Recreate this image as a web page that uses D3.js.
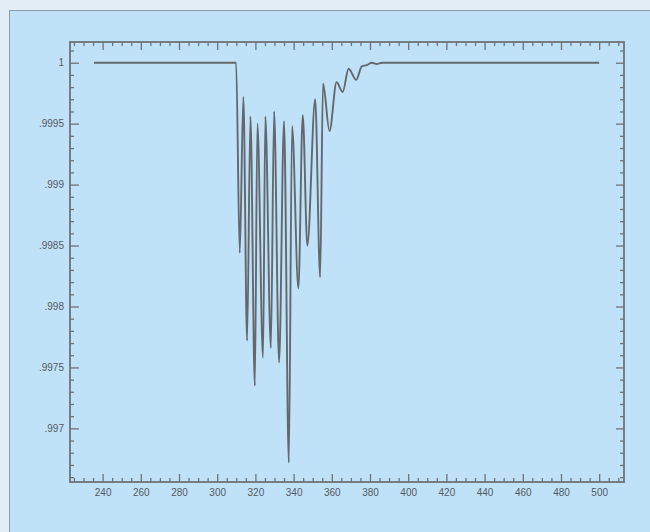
<!DOCTYPE html>
<html>
<head>
<meta charset="utf-8">
<script src="https://cdn.jsdelivr.net/npm/d3@7"></script>
<style>
  html, body { margin: 0; padding: 0; background: #e3eef6; }
  svg { display: block; }
</style>
</head>
<body>
<svg id="chart" width="650" height="532"></svg>
<script>
// Transmission spectrum: wavelength (nm) and relative transmission
const wavelength = [
  235.5, 309.9, 311.8, 313.7, 315.65, 317.4, 319.7, 321.05, 324.0, 325.2,
  328.1, 329.8, 332.4, 335.0, 337.5, 339.2, 342.5, 344.8, 347.2, 351.3,
  353.9, 355.4, 358.8, 362.5, 365.7, 368.8, 372.8, 375.7, 378.3, 381.0,
  383.5, 386.4, 500
];
const transmission = [
  1.0, 1.0, 0.99844, 0.99972, 0.99772, 0.99956, 0.99735, 0.99950, 0.99758, 0.99956,
  0.99766, 0.99960, 0.99754, 0.99952, 0.99672, 0.99948, 0.99815, 0.99957, 0.99850, 0.99970,
  0.99824, 0.99983, 0.99944, 0.99984, 0.99976, 0.99995, 0.99986, 0.99997, 0.99998, 1.0,
  0.99999, 1.0, 1.0
];

// Axis ticks and labels
const xTickValues = [240, 260, 280, 300, 320, 340, 360, 380, 400, 420, 440, 460, 480, 500];
const yTickValues = [0.997, 0.9975, 0.998, 0.9985, 0.999, 0.9995, 1];
const yTickLabels = [".997", ".9975", ".998", ".9985", ".999", ".9995", "1"];

const svg = d3.select("#chart");
const W = 650, H = 532;
const box = { left: 70, right: 624, top: 42, bottom: 482 };

// Panel background with its thin border
svg.append("rect")
  .attr("x", 9.5).attr("y", 10.5)
  .attr("width", W).attr("height", H)
  .attr("fill", "#bfe2f9")
  .attr("stroke", "#8d9ba6")
  .attr("stroke-width", 1);

const x = d3.scaleLinear().domain([222.4, 513]).range([box.left - 1, box.right]);
const y = d3.scaleLinear().domain([0.99656, 1.00017]).range([box.bottom, box.top]);

const axisColor = "#6e7378";
const textColor = "#55595d";

const xMinor = d3.range(225, 513, 5).filter(v => v % 20 !== 0);
const yMinor = d3.range(9966, 10002, 1).map(v => v / 10000).filter(v => Math.round(v * 10000) % 5 !== 0);

function styleAxis(g) {
  g.select(".domain").remove();
  g.selectAll("line").attr("stroke", axisColor).attr("stroke-width", 1.3);
  g.selectAll("text").attr("fill", textColor)
    .style("font-family", "'Liberation Sans', Arial, sans-serif")
    .style("font-size", "10px");
}

// Bottom axis (labelled) and top axis (ticks only), ticks pointing inward
svg.append("g").attr("transform", `translate(0,${box.bottom})`)
  .call(d3.axisBottom(x).tickValues(xTickValues).tickSizeInner(-8).tickSizeOuter(0).tickPadding(7).tickFormat(d3.format("d")))
  .call(styleAxis);
svg.append("g").attr("transform", `translate(0,${box.bottom})`)
  .call(d3.axisBottom(x).tickValues(xMinor).tickSizeInner(-4).tickSizeOuter(0).tickFormat(""))
  .call(styleAxis);
svg.append("g").attr("transform", `translate(0,${box.top})`)
  .call(d3.axisTop(x).tickValues(xTickValues).tickSizeInner(-8).tickSizeOuter(0).tickFormat(""))
  .call(styleAxis);
svg.append("g").attr("transform", `translate(0,${box.top})`)
  .call(d3.axisTop(x).tickValues(xMinor).tickSizeInner(-4).tickSizeOuter(0).tickFormat(""))
  .call(styleAxis);

// Left axis (labelled) and right axis (ticks only)
svg.append("g").attr("transform", `translate(${box.left},0)`)
  .call(d3.axisLeft(y).tickValues(yTickValues).tickSizeInner(-9).tickSizeOuter(0).tickPadding(6)
    .tickFormat((d, i) => yTickLabels[i]))
  .call(styleAxis);
svg.append("g").attr("transform", `translate(${box.left},0)`)
  .call(d3.axisLeft(y).tickValues(yMinor).tickSizeInner(-4).tickSizeOuter(0).tickFormat(""))
  .call(styleAxis);
svg.append("g").attr("transform", `translate(${box.right},0)`)
  .call(d3.axisRight(y).tickValues(yTickValues).tickSizeInner(-8).tickSizeOuter(0).tickFormat(""))
  .call(styleAxis);
svg.append("g").attr("transform", `translate(${box.right},0)`)
  .call(d3.axisRight(y).tickValues(yMinor).tickSizeInner(-4).tickSizeOuter(0).tickFormat(""))
  .call(styleAxis);

// Plot frame
svg.append("rect")
  .attr("x", box.left).attr("y", box.top)
  .attr("width", box.right - box.left).attr("height", box.bottom - box.top)
  .attr("fill", "none")
  .attr("stroke", axisColor)
  .attr("stroke-width", 1.8);

// Spectrum line
const points = wavelength.map((w, i) => [w, transmission[i]]);
const line = d3.line()
  .x(d => x(d[0]))
  .y(d => y(d[1]))
  .curve(d3.curveMonotoneX);

svg.append("path")
  .datum(points)
  .attr("d", line)
  .attr("fill", "none")
  .attr("stroke", "#64686c")
  .attr("stroke-width", 1.9)
  .attr("stroke-linejoin", "round");
</script>
</body>
</html>
